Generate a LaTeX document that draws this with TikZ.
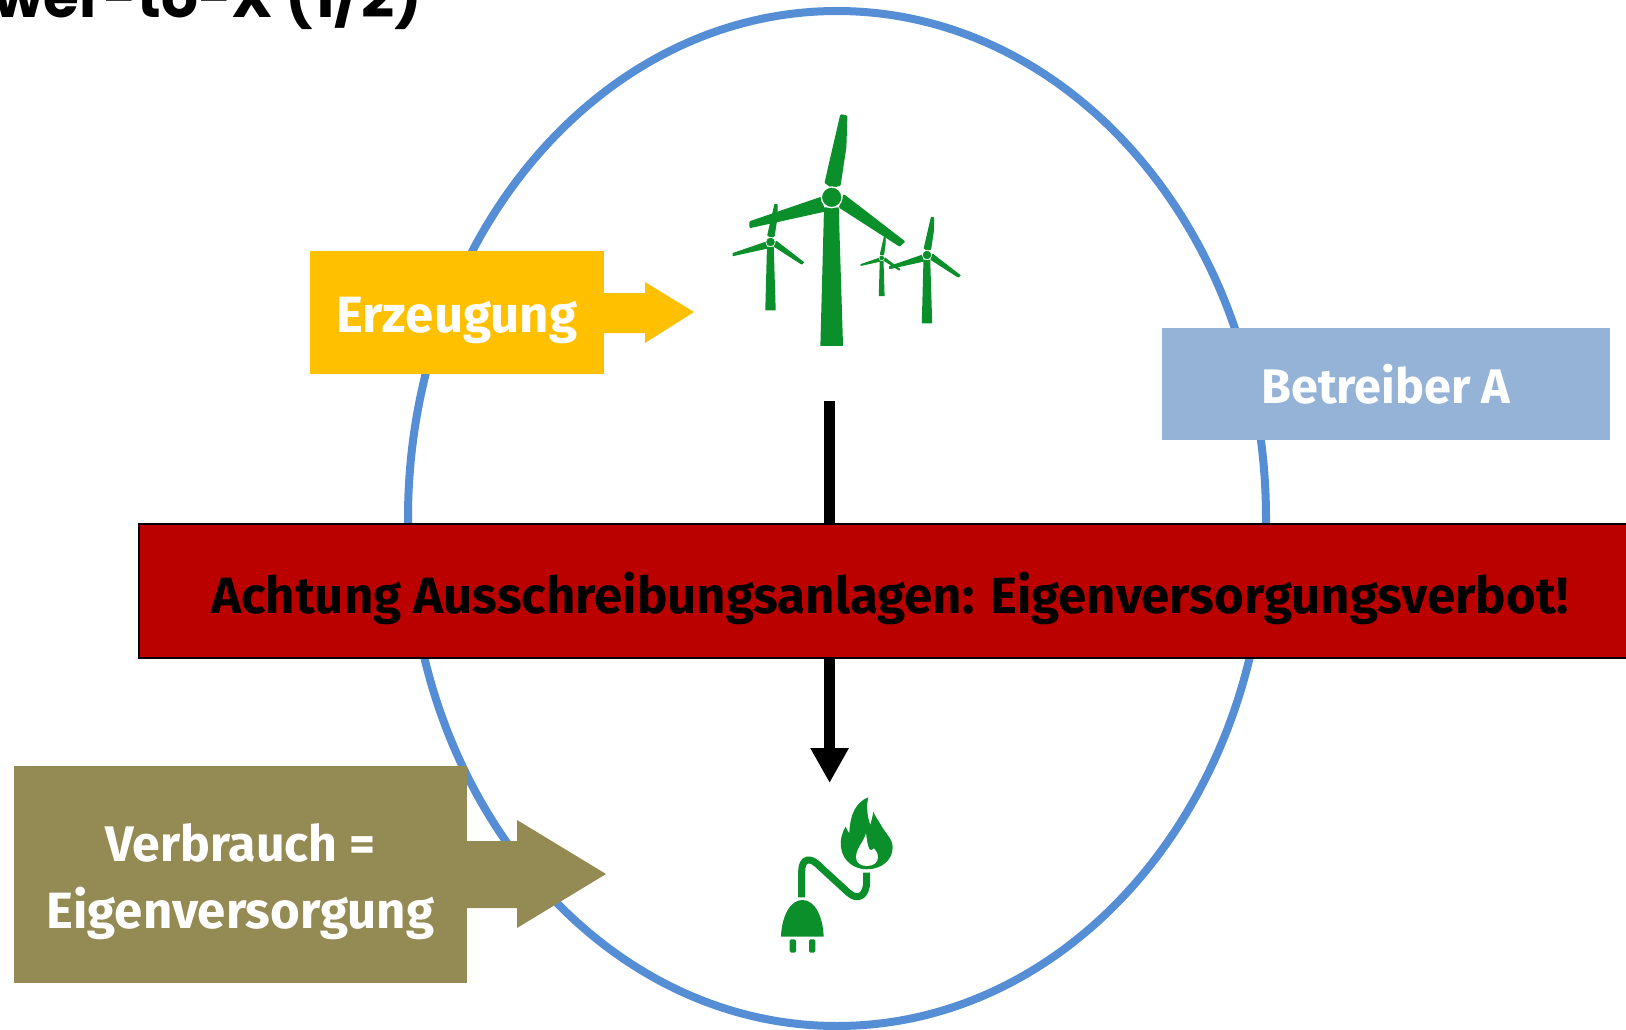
\documentclass[tikz,border=0pt]{standalone}
\usepackage{fontspec}
\setmainfont{Fira Sans}
\newfontfamily\titlefont{Poppins}
\usetikzlibrary{arrows.meta}
\definecolor{cgreen}{HTML}{0B8F2A}
\definecolor{cyellow}{HTML}{FFC000}
\definecolor{cblue}{HTML}{95B3D7}
\definecolor{cred}{HTML}{BB0000}
\definecolor{colive}{HTML}{948A54}
\definecolor{cring}{HTML}{558ED5}
\newcommand{\turbine}[3]{%
 \begin{scope}[shift={(#1,#2)},x=#3pt,y=-#3pt]
  \fill[cgreen] (-23,30) -- (21,30) -- (34,446) -- (-34,446) -- cycle;
  \filldraw[cgreen,line join=round,line width=#3*8pt] (-17,-45) -- (-8,-85) -- (29,-245) -- (43,-242) -- (40,-150) -- (23,-38) -- (0,-32) -- cycle;
  \filldraw[cgreen,line join=round,line width=#3*8pt] (-33,3) -- (-243,75) -- (-243,88) -- (-25,40) -- cycle;
  \filldraw[cgreen,line join=round,line width=#3*8pt] (37,-4) -- (215,133) -- (203,143) -- (26,29) -- cycle;
  \fill[cgreen,draw=white,line width=#3*4pt] (0,0) circle (31);
 \end{scope}}
\tikzset{
 lbl/.style={text=white,font=\bfseries\fontsize{#1}{56}\selectfont,anchor=base,inner sep=0pt},
 panel/.style={minimum width=#1,anchor=north west,inner sep=0pt}
}
\begin{document}
\begin{tikzpicture}[x=1pt,y=-1pt]
\useasboundingbox (0,0) rectangle (1626,1030);
\fill[white] (0,0) rectangle (1626,1030);
% title
\node[anchor=base west,inner sep=0pt,font=\titlefont\bfseries\fontsize{58}{62}\selectfont] (title) at (-7,18) {wer-to-X (1/2)};
% circle
\draw[cring,line width=8pt] (837,518.5) ellipse (429 and 507.5);
% wind turbines
\turbine{770.5}{242}{0.1533}
\turbine{881.7}{258}{0.0853}
\turbine{927}{255}{0.1533}
\turbine{831.7}{197.3}{0.3333}
% arrow
\coordinate (flowA) at (829.6,401);
\coordinate (flowB) at (829.6,783);
\draw[line width=11.4pt,-{Triangle[width=36pt,length=35pt]}] (flowA) -- (flowB);
% red banner
\node[draw=black,line width=2pt,fill=cred,panel=1600pt,minimum height=134pt] (ban) at (138,522.5) {};
\node[anchor=base west,inner sep=0pt,font=\bfseries\fontsize{51}{56}\selectfont] (bantext) at (211,613) {Achtung Ausschreibungsanlagen: Eigenversorgungsverbot!};
% yellow
\fill[cyellow] (604,293) -- (645,293) -- (645,282) -- (694,312) -- (645,343) -- (645,333) -- (604,333) -- cycle;
\node[fill=cyellow,panel=294pt,minimum height=123pt] (erz) at (310,251) {};
\node[lbl=51] (erzt) at (457,332) {Erzeugung};
% blue
\node[fill=cblue,panel=448pt,minimum height=112pt] (betr) at (1162,328) {};
\node[lbl=48.5] (betrt) at (1386,403) {Betreiber A};
% olive
\fill[colive] (467,841) -- (517,841) -- (517,820) -- (606,874) -- (517,928) -- (517,908) -- (467,908) -- cycle;
\node[fill=colive,panel=453pt,minimum height=217pt] (verb) at (14,766) {};
\node[lbl=50] (verbt) at (240.5,861) {Verbrauch =};
\node[lbl=51] (eigt) at (240.5,928) {Eigenversorgung};
% plug and flame
\begin{scope}[shift={(740,770)},x=0.3333pt,y=-0.3333pt]
 \fill[cgreen] (385,82) .. controls (350,95) and (330,130) .. (328,190) .. controls (324,185) and (320,178) .. (317,170) .. controls (305,190) and (300,210) .. (303,232) .. controls (308,275) and (345,298) .. (380,298) .. controls (425,298) and (458,270) .. (458,232) .. controls (458,205) and (432,185) .. (423,165) .. controls (414,150) and (405,138) .. (400,125) .. controls (398,140) and (394,152) .. (391,165) .. controls (382,140) and (378,110) .. (385,82) -- cycle;
 \fill[white] (378,190) .. controls (372,215) and (348,235) .. (348,262) .. controls (348,278) and (362,288) .. (380,288) .. controls (400,288) and (414,278) .. (414,262) .. controls (414,250) and (408,242) .. (402,235) .. controls (398,240) and (392,243) .. (388,238) .. controls (382,225) and (380,205) .. (378,190) -- cycle;
 \draw[cgreen,line width=7pt] (380,308) -- (380,335) .. controls (380,375) and (355,395) .. (325,368) -- (240,290) .. controls (210,258) and (185,265) .. (185,305) -- (185,382);
 \fill[cgreen] (123,500) .. controls (125,440) and (150,390) .. (187,390) .. controls (225,390) and (249,440) .. (251,500) -- cycle;
 \fill[cgreen,rounded corners=1.5pt] (149,508) rectangle (168,548);
 \fill[cgreen,rounded corners=1.5pt] (207,508) rectangle (226,548);
\end{scope}
\end{tikzpicture}
\end{document}
